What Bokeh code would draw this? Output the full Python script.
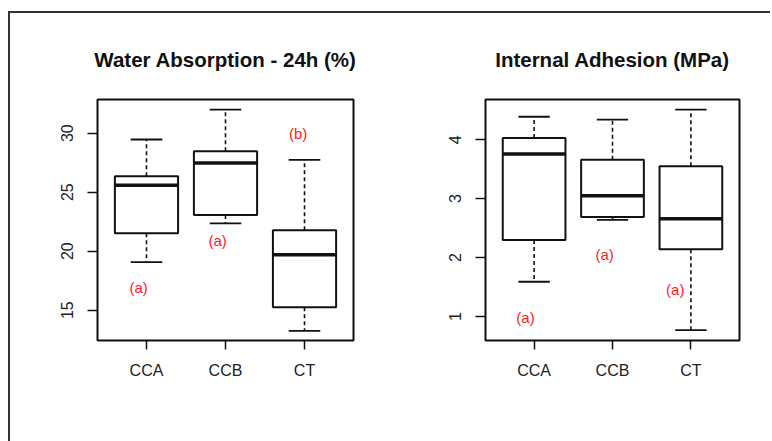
from bokeh.plotting import figure
from bokeh.layouts import row
from bokeh.models import FixedTicker
from bokeh.core.properties import value
from bokeh.embed import file_html
from bokeh.resources import INLINE

# ---------------- data ----------------
categories = ["CCA", "CCB", "CT"]

# Water absorption - 24h (%)
wa_lower = [19.07, 22.36, 13.24]
wa_q1 = [21.51, 23.06, 15.25]
wa_median = [25.59, 27.48, 19.69]
wa_q3 = [26.35, 28.47, 21.77]
wa_upper = [29.46, 32.00, 27.73]
wa_letters = ["(a)", "(a)", "(b)"]
wa_letter_y = [16.9, 20.9, 30.0]
wa_ticks = [15, 20, 25, 30]

# Internal adhesion (MPa)
ia_lower = [1.59, 2.64, 0.77]
ia_q1 = [2.30, 2.69, 2.14]
ia_median = [3.76, 3.05, 2.66]
ia_q3 = [4.03, 3.66, 3.55]
ia_upper = [4.39, 4.34, 4.51]
ia_letters = ["(a)", "(a)", "(a)"]
ia_letter_y = [0.99, 2.05, 1.46]
ia_ticks = [1, 2, 3, 4]

FONT = "Liberation Sans"


def panel(title, lower, q1, med, q3, upper, letters, letter_y, letter_dx,
          ticks, yr, width, bl, br):
    p = figure(width=width, height=428, output_backend="svg", toolbar_location=None,
               x_range=(0.38, 3.62), y_range=yr,
               min_border_left=bl, min_border_right=br,
               min_border_top=86, min_border_bottom=101)
    p.title.text = title
    p.title.align = "center"
    p.title.text_font = FONT
    p.title.text_font_size = "20.5px"
    p.title.text_font_style = "bold"
    p.title.text_color = "#111111"
    p.title.standoff = 57
    p.background_fill_color = "white"
    p.border_fill_color = "white"
    p.outline_line_color = "#111111"
    p.outline_line_width = 2
    p.grid.visible = False

    xs = list(range(1, len(categories) + 1))
    # whiskers
    p.segment(x0=xs, y0=q3, x1=xs, y1=upper, line_color="#111111",
              line_width=1.6, line_dash="4 3")
    p.segment(x0=xs, y0=q1, x1=xs, y1=lower, line_color="#111111",
              line_width=1.6, line_dash="4 3")
    # caps
    p.segment(x0=[x - 0.2 for x in xs], y0=upper, x1=[x + 0.2 for x in xs], y1=upper,
              line_color="#111111", line_width=1.8)
    p.segment(x0=[x - 0.2 for x in xs], y0=lower, x1=[x + 0.2 for x in xs], y1=lower,
              line_color="#111111", line_width=1.8)
    # boxes
    p.vbar(x=xs, width=0.8, top=q3, bottom=q1, fill_color="white",
           line_color="#111111", line_width=2)
    # medians
    p.segment(x0=[x - 0.4 for x in xs], y0=med, x1=[x + 0.4 for x in xs], y1=med,
              line_color="#111111", line_width=3.5)
    # letters
    p.text(x=[x + d for x, d in zip(xs, letter_dx)], y=letter_y, text=letters,
           text_color="#ff1a1a", text_font=value(FONT), text_font_size="15px",
           text_align="center", text_baseline="middle")

    # axes
    for ax in (p.xaxis[0], p.yaxis[0]):
        ax.axis_line_color = None
        ax.major_tick_line_color = "#111111"
        ax.major_tick_line_width = 1.5
        ax.major_tick_in = 0
        ax.minor_tick_line_color = None
        ax.major_label_text_font = FONT
        ax.major_label_text_font_size = "16px"
        ax.major_label_text_color = "#222222"
    p.xaxis.ticker = FixedTicker(ticks=xs)
    p.xaxis.major_label_overrides = {x: c for x, c in zip(xs, categories)}
    p.xaxis.major_tick_out = 9
    p.xaxis.major_label_standoff = 12
    p.yaxis.ticker = FixedTicker(ticks=ticks)
    p.yaxis.major_tick_out = 10
    p.yaxis.major_label_standoff = 14
    p.yaxis.major_label_orientation = "vertical"
    return p


p1 = panel("Water Absorption - 24h (%)", wa_lower, wa_q1, wa_median, wa_q3, wa_upper,
           wa_letters, wa_letter_y, [-0.1, -0.1, -0.08], wa_ticks, (12.43, 32.85),
           376, 87, 33)
p2 = panel("Internal Adhesion (MPa)", ia_lower, ia_q1, ia_median, ia_q3, ia_upper,
           ia_letters, ia_letter_y, [-0.11, -0.1, -0.2], ia_ticks, (0.593, 4.683),
           384, 99, 31)

layout = row(p1, p2, styles={"border-left": "2px solid #333333",
                             "border-top": "2px solid #333333",
                             "margin-left": "8px", "margin-top": "11px"})

open("out.html", "w").write(file_html(layout, INLINE))
